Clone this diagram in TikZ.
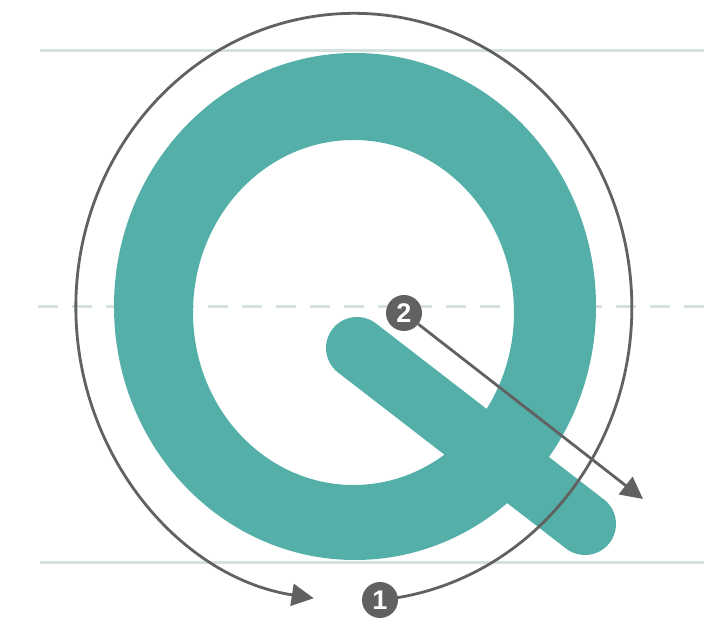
\documentclass[tikz,border=0pt]{standalone}
\usepackage{fontspec}
\setsansfont{Liberation Sans}
\usetikzlibrary{arrows.meta}
\definecolor{ringteal}{HTML}{54AFA8}
\definecolor{markgray}{HTML}{616161}
\definecolor{guidegray}{HTML}{D5E1DE}

\begin{document}
\begin{tikzpicture}[x=1pt,y=1pt, guide/.style={draw=guidegray,line width=3pt}, flow/.style={draw=markgray,line width=2.8pt,-{Triangle[length=22pt,width=22pt]}}, badge/.style={circle,fill=markgray,text=white,inner sep=0pt,minimum size=36pt,font=\sffamily\bfseries\fontsize{27}{27}\selectfont}]
\useasboundingbox (0,0) rectangle (704,618);
\draw[guide] (40,567)--(704,567);
\draw[guide] (40,55)--(704,55);
\draw[guide,dash pattern=on 20pt off 14pt] (38,311)--(704,311);
\fill[ringteal,even odd rule] (355,311.5) ellipse[x radius=241,y radius=253.5] (353.5,305.5) ellipse[x radius=160.5,y radius=172.5];
\coordinate (tailA) at (357,270);
\coordinate (tailB) at (585,94);
\draw[ringteal,line width=62pt,line cap=round] (tailA)--(tailB);
\coordinate (one) at (380,18);
\coordinate (twoend) at (643,119);
\draw[flow] (one) arc[start angle=-84.6,end angle=261.7,x radius=278,y radius=294];
\node[badge] (n1) at (one) {1};
\node[badge] (n2) at (404,305) {2};
\draw[flow] (n2)--(twoend);
\end{tikzpicture}
\end{document}
